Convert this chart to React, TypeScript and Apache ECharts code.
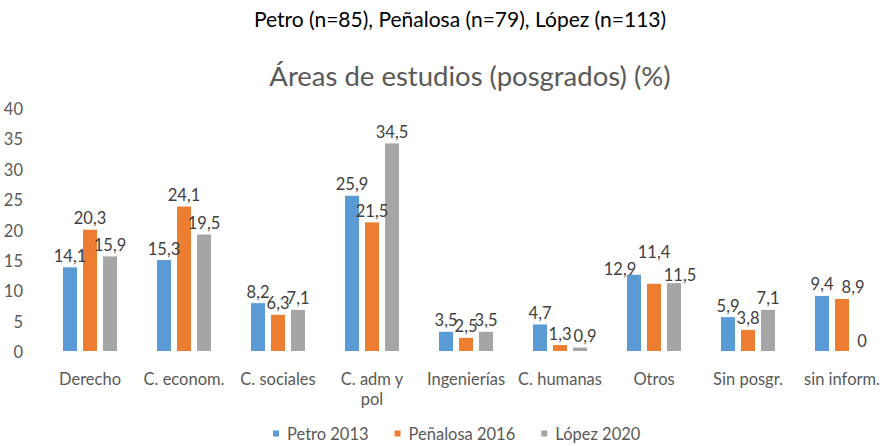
import React, { useEffect, useRef } from "react";
import * as echarts from "echarts";

const categories = ["Derecho", "C. econom.", "C. sociales", "C. adm y\npol", "Ingenierías", "C. humanas", "Otros", "Sin posgr.", "sin inform."];
const petro2013 = [14.1, 15.3, 8.2, 25.9, 3.5, 4.7, 12.9, 5.9, 9.4];
const penalosa2016 = [20.3, 24.1, 6.3, 21.5, 2.5, 1.3, 11.4, 3.8, 8.9];
const lopez2020 = [15.9, 19.5, 7.1, 34.5, 3.5, 0.9, 11.5, 7.1, 0];
const seriesNames = ["Petro 2013", "Peñalosa 2016", "López 2020"];
const colors = ["#5B9BD5", "#ED7D31", "#A5A5A5"];
const titleText = "Petro (n=85), Peñalosa (n=79), López (n=113)";
const subtitleText = "Áreas de estudios (posgrados) (%)";

const FONT = "Lato, 'Open Sans', sans-serif";

// label nudges (series index, category index) -> [dx, dy], mimicking the reference's overlap avoidance
const labelNudges: Record<string, [number, number]> = {
  "0-6": [-14, 6],
  "1-6": [0, -20],
  "2-6": [6, 3],
  "1-8": [11, 0],
  "2-5": [5, 0],
};

export default function App() {
  const ref = useRef<HTMLDivElement>(null);
  useEffect(() => {
    if (!ref.current) return;
    const chart = echarts.init(ref.current, undefined, { renderer: "svg" });
    const data = [petro2013, penalosa2016, lopez2020];
    chart.setOption({
      animation: false,
      backgroundColor: "#ffffff",
      textStyle: { fontFamily: FONT },
      title: [
        {
          text: titleText,
          left: 455,
          textAlign: "center",
          top: 3,
          textStyle: { fontFamily: FONT, fontSize: 21, fontWeight: "normal", color: "#000000" },
        },
        {
          text: subtitleText,
          left: 465,
          textAlign: "center",
          top: 56,
          textStyle: { fontFamily: FONT, fontSize: 27.5, fontWeight: "normal", color: "#595959" },
        },
      ],
      legend: {
        top: 425,
        left: 271,
        padding: 0,
        itemWidth: 8,
        itemHeight: 8,
        itemGap: 24,
        icon: "rect",
        textStyle: { fontFamily: FONT, fontSize: 16.5, color: "#595959", padding: [0, 0, 0, 2] },
        data: seriesNames,
      },
      grid: { left: 43, top: 109, width: 849, height: 243, containLabel: false },
      xAxis: {
        type: "category",
        data: categories,
        axisLine: { show: false },
        axisTick: { show: false },
        axisLabel: { fontFamily: FONT, fontSize: 16.5, color: "#595959", margin: 17, lineHeight: 20, interval: 0 },
      },
      yAxis: {
        type: "value",
        min: 0,
        max: 40,
        interval: 5,
        splitLine: { show: false },
        axisLine: { show: false },
        axisTick: { show: false },
        axisLabel: { fontFamily: FONT, fontSize: 16.5, color: "#595959", margin: 20 },
      },
      series: seriesNames.map((name, i) => ({
        name,
        type: "bar",
        barWidth: 16,
        barGap: "25%",
        itemStyle: { color: colors[i], borderColor: "#ffffff", borderWidth: 1 },
        label: {
          show: true,
          position: "top",
          distance: 2,
          fontFamily: FONT,
          fontSize: 16.5,
          color: "#404040",
          formatter: (p: any) => String(p.value).replace(".", ","),
        },
        data: data[i].map((v, j) => {
          const nudge = labelNudges[`${i}-${j}`];
          return nudge ? { value: v, label: { offset: nudge } } : v;
        }),
      })),
    });
    return () => chart.dispose();
  }, []);
  return (
    <div
      ref={ref}
      style={{ position: "fixed", left: 0, top: 0, width: 889, height: 446 }}
    />
  );
}
